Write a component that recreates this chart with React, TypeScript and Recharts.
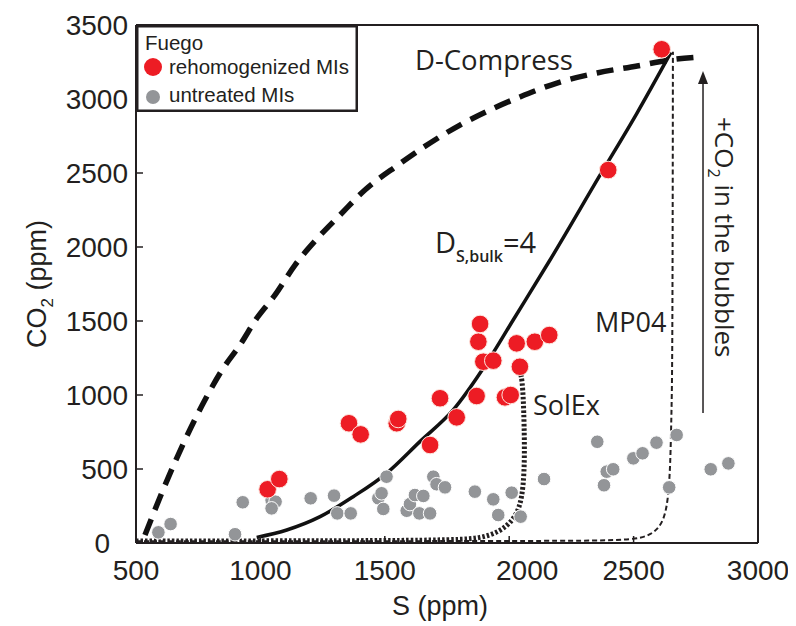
import React from 'react';
import { ComposedChart, Line, Scatter, XAxis, YAxis, Legend } from 'recharts';

// ---------- data ----------
const xTicks = [500, 1000, 1500, 2000, 2500, 3000];
const yTicks = [0, 500, 1000, 1500, 2000, 2500, 3000, 3500];

const legendTitle = 'Fuego';
const rehomName = 'rehomogenized MIs';
const untreatedName = 'untreated MIs';

const rehomS = [1029, 1076, 1356, 1403, 1548, 1554, 1682, 1722, 1789, 1869, 1876, 1883, 1896, 1936, 1983, 2006, 2030, 2043, 2103, 2161, 2398, 2613];
const rehomCO2 = [363, 432, 809, 734, 809, 838, 662, 978, 849, 993, 1360, 1480, 1225, 1232, 984, 1000, 1349, 1191, 1360, 1405, 2520, 3336];

const untreatedS = [590, 639, 898, 929, 1045, 1061, 1045, 1202, 1296, 1309, 1363, 1474, 1487, 1494, 1507, 1588, 1601, 1621, 1639, 1655, 1695, 1708, 1742, 1682, 1862, 1936, 1956, 2010, 2046, 2140, 2354, 2381, 2392, 2418, 2499, 2536, 2592, 2643, 2673, 2810, 2881];
const untreatedCO2 = [72, 128, 59, 275, 290, 279, 234, 302, 320, 200, 200, 302, 336, 230, 448, 218, 263, 324, 200, 318, 448, 397, 376, 200, 347, 295, 189, 340, 178, 432, 684, 390, 482, 498, 572, 606, 678, 376, 730, 498, 538];

const dCompressS = [536, 617, 697, 777, 846, 918, 986, 1059, 1139, 1223, 1320, 1420, 1553, 1682, 1802, 1923, 2043, 2192, 2353, 2514, 2646, 2767];
const dCompressCO2 = [54, 392, 696, 966, 1169, 1338, 1520, 1676, 1878, 2047, 2216, 2385, 2554, 2703, 2824, 2926, 3014, 3108, 3176, 3223, 3264, 3284];

const dBulkS = [985, 1106, 1240, 1373, 1507, 1641, 1775, 1909, 2016, 2164, 2365, 2512, 2650];
const dBulkCO2 = [38, 88, 178, 313, 471, 685, 899, 1214, 1507, 1912, 2485, 2900, 3315];

const solExS = [500, 1000, 1500, 1700, 1800, 1883, 1963, 2016, 2043, 2057, 2062, 2060, 2057, 2052, 2045];
const solExCO2 = [14, 14, 16, 20, 24, 32, 76, 155, 245, 380, 580, 800, 966, 1100, 1150];

const mp04S = [500, 1500, 2200, 2499, 2572, 2619, 2639, 2648, 2652, 2655, 2657, 2658];
const mp04CO2 = [12, 12, 14, 18, 54, 133, 290, 538, 876, 1101, 2000, 3320];

const arrowS = [2779, 2779];
const arrowCO2 = [878, 3160];
const arrowHeadS = [2779];
const arrowHeadCO2 = [3190];

const zip = (s: number[], c: number[]) => s.map((v, i) => ({ s: v, co2: c[i] }));

const rehomData = zip(rehomS, rehomCO2);
const untreatedData = zip(untreatedS, untreatedCO2);
const dCompressData = zip(dCompressS, dCompressCO2);
const dBulkData = zip(dBulkS, dBulkCO2);
const solExData = zip(solExS, solExCO2);
const mp04Data = zip(mp04S, mp04CO2);
const arrowData = zip(arrowS, arrowCO2);
const arrowHeadData = zip(arrowHeadS, arrowHeadCO2);

// ---------- styles ----------
const W = 788;
const H = 618;
const RED = '#ed1c24';
const GREY = '#939598';
const INK = '#231f20';
const AX_FONT = '"Liberation Sans", Arial, Helvetica, sans-serif';
const ANN_FONT = '"Open Sans", "Noto Sans", sans-serif';
const TICK_FS = 28;

const ArrowHead = (props: any) => {
  const { cx, cy } = props;
  if (cx == null || cy == null) return null;
  return <path d={`M${cx},${cy} L${cx - 5},${cy + 13} L${cx + 5},${cy + 13} Z`} fill={INK} />;
};

const XTick = (props: any) => {
  const { x, y, payload } = props;
  const dx = payload.value === 2000 ? 18 : 0;
  return (
    <text x={x + dx} y={y} dy="0.71em" textAnchor="middle" fontSize={TICK_FS} fontFamily={AX_FONT} fill={INK}>
      {payload.value}
    </text>
  );
};

const YTick = (props: any) => {
  const { x, y, payload } = props;
  const dx = payload.value === 0 ? -18 : 0;
  return (
    <text x={x + dx} y={y} dy="0.355em" textAnchor="end" fontSize={TICK_FS} fontFamily={AX_FONT} fill={INK}>
      {payload.value}
    </text>
  );
};

const LegendBox = () => (
  <svg width={222} height={87} style={{ display: 'block' }}>
    <rect x={1.25} y={1.25} width={219.5} height={84.5} fill="#fff" stroke={INK} strokeWidth={2.5} />
    <text x={9} y={25} fontSize={20.5} fontFamily={AX_FONT} fill={INK}>{legendTitle}</text>
    <circle cx={17} cy={42} r={9} fill={RED} />
    <text x={33} y={49} fontSize={20.5} fontFamily={AX_FONT} fill={INK}>{rehomName}</text>
    <circle cx={17} cy={72} r={7} fill={GREY} />
    <text x={33} y={77} fontSize={20.5} fontFamily={AX_FONT} fill={INK}>{untreatedName}</text>
  </svg>
);

export default function App() {
  return (
    <div style={{ position: 'relative', width: W, height: H }}>
      <ComposedChart width={W} height={H} margin={{ top: 17, right: 38, bottom: 43, left: 58 }}>
        <XAxis
          xAxisId="b"
          dataKey="s"
          type="number"
          domain={[500, 3000]}
          ticks={xTicks}
          allowDataOverflow
          height={40}
          tickSize={-7}
          tickMargin={24}
          tick={<XTick />}
          axisLine={{ stroke: INK, strokeWidth: 2 }}
          tickLine={{ stroke: INK, strokeWidth: 1.5 }}
        />
        <XAxis
          xAxisId="t"
          dataKey="s"
          orientation="top"
          type="number"
          domain={[500, 3000]}
          ticks={xTicks}
          allowDataOverflow
          mirror
          tick={false}
          tickSize={7}
          axisLine={{ stroke: INK, strokeWidth: 2 }}
          tickLine={{ stroke: INK, strokeWidth: 1.5 }}
        />
        <YAxis
          yAxisId="l"
          dataKey="co2"
          type="number"
          domain={[0, 3500]}
          ticks={yTicks}
          allowDataOverflow
          width={70}
          tickSize={-7}
          tickMargin={15}
          tick={<YTick />}
          axisLine={{ stroke: INK, strokeWidth: 2 }}
          tickLine={{ stroke: INK, strokeWidth: 1.5 }}
        />
        <YAxis
          yAxisId="r"
          dataKey="co2"
          orientation="right"
          type="number"
          domain={[0, 3500]}
          ticks={yTicks}
          allowDataOverflow
          mirror
          tick={false}
          tickSize={7}
          axisLine={{ stroke: INK, strokeWidth: 2 }}
          tickLine={{ stroke: INK, strokeWidth: 1.5 }}
        />
        <Legend
          layout="horizontal"
          verticalAlign="middle"
          align="center"
          wrapperStyle={{ top: 17, left: 128, width: 222, height: 87 }}
          content={() => <LegendBox />}
        />
        <Scatter
          name={untreatedName}
          xAxisId="b"
          yAxisId="l"
          data={untreatedData}
          fill={GREY}
          shape={(p: any) => <circle cx={p.cx} cy={p.cy} r={6.8} fill={GREY} stroke="#fff" strokeWidth={1} />}
          isAnimationActive={false}
        />
        <Scatter
          name={rehomName}
          xAxisId="b"
          yAxisId="l"
          data={rehomData}
          fill={RED}
          shape={(p: any) => <circle cx={p.cx} cy={p.cy} r={8.8} fill={RED} stroke="#fde4dc" strokeWidth={1} />}
          isAnimationActive={false}
        />
        <Line
          xAxisId="b"
          yAxisId="l"
          data={mp04Data}
          dataKey="co2"
          type="basis"
          stroke={INK}
          strokeWidth={2}
          strokeDasharray="5 3"
          dot={false}
          activeDot={false}
          legendType="none"
          isAnimationActive={false}
        />
        <Line
          xAxisId="b"
          yAxisId="l"
          data={solExData}
          dataKey="co2"
          type="basis"
          stroke={INK}
          strokeWidth={5}
          strokeDasharray="2.5 2"
          dot={false}
          activeDot={false}
          legendType="none"
          isAnimationActive={false}
        />
        <Line
          xAxisId="b"
          yAxisId="l"
          data={dBulkData}
          dataKey="co2"
          type="monotone"
          stroke="#111"
          strokeWidth={3.5}
          dot={false}
          activeDot={false}
          legendType="none"
          isAnimationActive={false}
        />
        <Line
          xAxisId="b"
          yAxisId="l"
          data={dCompressData}
          dataKey="co2"
          type="monotone"
          stroke="#111"
          strokeWidth={5.5}
          strokeDasharray="17 10"
          dot={false}
          activeDot={false}
          legendType="none"
          isAnimationActive={false}
        />
        <Line
          xAxisId="t"
          yAxisId="r"
          data={arrowData}
          dataKey="co2"
          type="linear"
          stroke={INK}
          strokeWidth={1.5}
          dot={false}
          activeDot={false}
          legendType="none"
          isAnimationActive={false}
        />
        <Scatter
          xAxisId="t"
          yAxisId="r"
          data={arrowHeadData}
          fill={INK}
          legendType="none"
          shape={ArrowHead}
          isAnimationActive={false}
        />
      </ComposedChart>
      <svg
        width={W}
        height={H}
        style={{ position: 'absolute', left: 0, top: 0, pointerEvents: 'none' }}
      >
        <text x={407} y={62} fontSize={27.5} fontFamily={ANN_FONT} fill={INK}>D-Compress</text>
        <text x={427} y={245} fontSize={29} fontFamily={ANN_FONT} fill={INK}>
          D<tspan fontSize={16} fontWeight={600} dy={9}>S,bulk</tspan>
          <tspan fontSize={29} dy={-9}>=4</tspan>
        </text>
        <text x={525} y={407} fontSize={27} fontFamily={ANN_FONT} fill={INK}>SolEx</text>
        <text x={587} y={324} fontSize={27} fontFamily={ANN_FONT} fill={INK}>MP04</text>
        <text x={707} y={109} fontSize={26} fontFamily={ANN_FONT} fill={INK} transform="rotate(90 707 109)">
          +CO<tspan fontSize={16} dy={7}>2</tspan>
          <tspan dy={-7}> in the bubbles</tspan>
        </text>
        <text x={432} y={607} fontSize={27} fontFamily={AX_FONT} fill={INK} textAnchor="middle">S (ppm)</text>
        <text x={38} y={276} fontSize={27} fontFamily={AX_FONT} fill={INK} textAnchor="middle" transform="rotate(-90 38 276)">
          CO<tspan fontSize={17} dy={7}>2</tspan>
          <tspan dy={-7}> (ppm)</tspan>
        </text>
      </svg>
    </div>
  );
}
